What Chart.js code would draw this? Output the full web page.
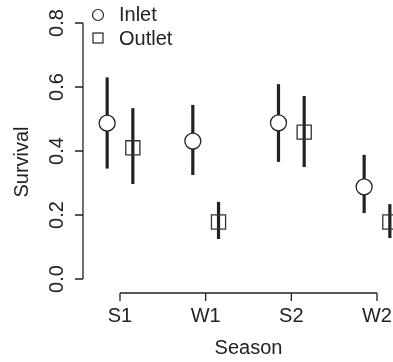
<!DOCTYPE html>
<html>
<head>
<meta charset="utf-8">
<script src="https://cdn.jsdelivr.net/npm/chart.js@4"></script>
<style>
  html, body { margin: 0; padding: 0; background: #fff; }
</style>
</head>
<body>
<canvas id="survival-chart" width="393" height="362"></canvas>
<script>
const seasons = ['S1', 'W1', 'S2', 'W2'];
const inletMean = [0.487, 0.431, 0.488, 0.288];
const inletLower = [0.345, 0.325, 0.366, 0.206];
const inletUpper = [0.630, 0.544, 0.609, 0.388];
const outletMean = [0.410, 0.178, 0.459, 0.178];
const outletLower = [0.297, 0.125, 0.350, 0.128];
const outletUpper = [0.534, 0.241, 0.572, 0.234];
const yTicks = [0, 0.2, 0.4, 0.6, 0.8];
const yTickLabels = ['0.0', '0.2', '0.4', '0.6', '0.8'];

const dodge = 0.15;
const ink = '#222';
const font = '20px "Liberation Sans", Arial, sans-serif';

// error bars go under the points, R-style axes and legend on top
const rStyle = {
  id: 'rStyle',
  beforeDatasetsDraw(chart) {
    const { ctx, scales: { x, y } } = chart;
    ctx.save();
    ctx.strokeStyle = ink;
    ctx.lineWidth = 3.2;
    chart.data.datasets.forEach(ds => {
      ds.data.forEach((p, i) => {
        const px = x.getPixelForValue(p.x);
        ctx.beginPath();
        ctx.moveTo(px, y.getPixelForValue(ds.lower[i]));
        ctx.lineTo(px, y.getPixelForValue(ds.upper[i]));
        ctx.stroke();
      });
    });
    ctx.restore();
  },
  afterDraw(chart) {
    const { ctx, chartArea: area, scales: { x, y } } = chart;
    ctx.save();
    ctx.strokeStyle = ink;
    ctx.fillStyle = ink;
    ctx.lineWidth = 1.3;
    ctx.font = font;

    // y axis
    const ax = area.left;
    ctx.beginPath();
    ctx.moveTo(ax, y.getPixelForValue(yTicks[0]));
    ctx.lineTo(ax, y.getPixelForValue(yTicks[yTicks.length - 1]));
    yTicks.forEach(t => {
      const py = y.getPixelForValue(t);
      ctx.moveTo(ax - 8, py);
      ctx.lineTo(ax, py);
    });
    ctx.stroke();
    ctx.textAlign = 'center';
    ctx.textBaseline = 'middle';
    yTicks.forEach((t, i) => {
      ctx.save();
      ctx.translate(57, y.getPixelForValue(t));
      ctx.rotate(-Math.PI / 2);
      ctx.fillText(yTickLabels[i], 0, 0);
      ctx.restore();
    });
    ctx.save();
    ctx.translate(22, 162);
    ctx.rotate(-Math.PI / 2);
    ctx.fillText('Survival', 0, 0);
    ctx.restore();

    // x axis
    const ay = area.bottom;
    ctx.beginPath();
    ctx.moveTo(x.getPixelForValue(0), ay);
    ctx.lineTo(x.getPixelForValue(seasons.length - 1), ay);
    seasons.forEach((s, i) => {
      const px = x.getPixelForValue(i);
      ctx.moveTo(px, ay);
      ctx.lineTo(px, ay + 8);
    });
    ctx.stroke();
    seasons.forEach((s, i) => {
      ctx.fillText(s, x.getPixelForValue(i), ay + 23);
    });
    ctx.fillText('Season', (x.getPixelForValue(0) + x.getPixelForValue(seasons.length - 1)) / 2, ay + 55);

    // legend
    ctx.lineWidth = 1.2;
    ctx.beginPath();
    ctx.arc(98, 15, 5.5, 0, Math.PI * 2);
    ctx.stroke();
    ctx.strokeRect(93, 33, 10, 10);
    ctx.textAlign = 'left';
    ctx.fillText('Inlet', 119, 15);
    ctx.fillText('Outlet', 119, 39);
    ctx.restore();
  }
};

const ctx = document.getElementById('survival-chart').getContext('2d');

const survivalChart = new Chart(ctx, {
  type: 'scatter',
  data: {
    datasets: [{
      label: 'Inlet',
      data: seasons.map((s, i) => ({ x: i - dodge, y: inletMean[i] })),
      lower: inletLower,
      upper: inletUpper,
      pointStyle: 'circle',
      pointRadius: 8,
      pointBackgroundColor: '#fff',
      pointBorderColor: ink,
      pointBorderWidth: 1.3
    }, {
      label: 'Outlet',
      data: seasons.map((s, i) => ({ x: i + dodge, y: outletMean[i] })),
      lower: outletLower,
      upper: outletUpper,
      pointStyle: 'rect',
      pointRadius: 10,
      pointBackgroundColor: 'rgba(0,0,0,0)',
      pointBorderColor: '#333',
      pointBorderWidth: 1.3
    }]
  },
  options: {
    responsive: false,
    animation: false,
    layout: { autoPadding: false, padding: { left: 83, right: 0, top: 0, bottom: 69 } },
    scales: {
      x: { type: 'linear', display: false, min: -0.4319, max: 3.1868 },
      y: { type: 'linear', display: false, min: -0.04375, max: 0.87188 }
    },
    plugins: {
      legend: { display: false },
      tooltip: { enabled: false }
    }
  },
  plugins: [rStyle]
});
</script>
</body>
</html>
